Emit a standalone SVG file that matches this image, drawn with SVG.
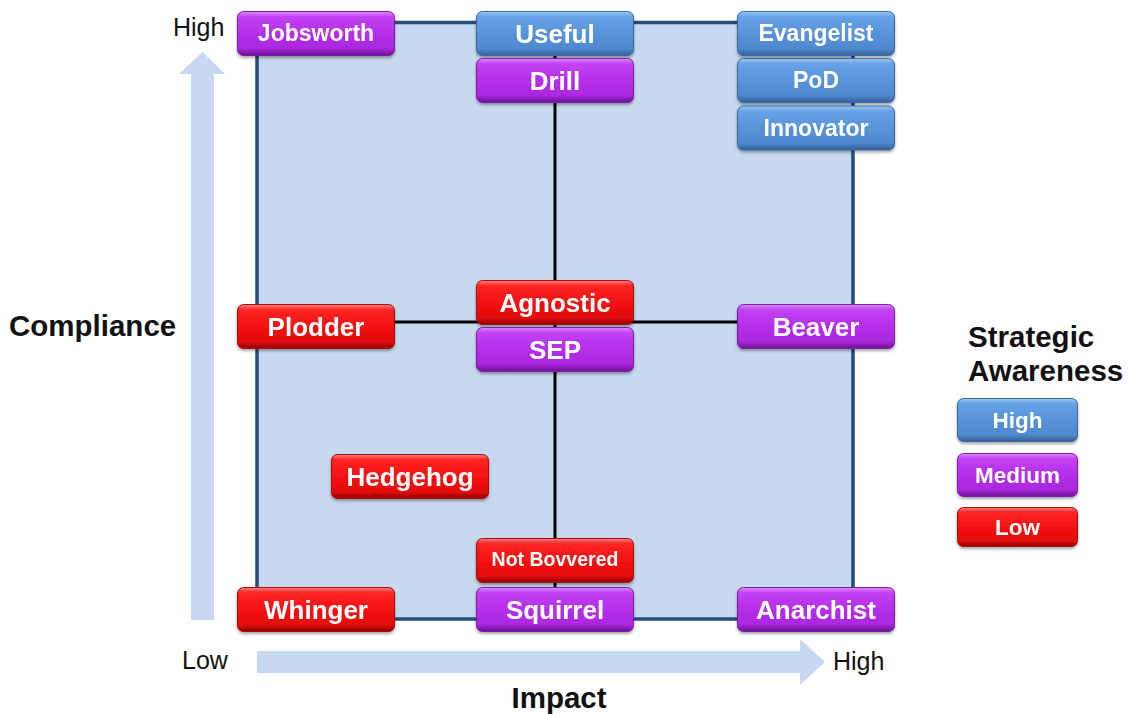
<svg xmlns="http://www.w3.org/2000/svg" width="1128" height="714" viewBox="0 0 1128 714">
  <style>
    .box rect { stroke-width: 1; }
    .blue rect { fill: url(#gBlue); stroke: #3a68a4; }
    .purple rect { fill: url(#gPurple); stroke: #7c1aa8; }
    .red rect { fill: url(#gRed); stroke: #a80808; }
    .box text { font-family: "Liberation Sans", Arial, sans-serif; font-weight: bold; fill: #ffffff; text-anchor: middle; }
    .axis { font-family: "Liberation Sans", Arial, sans-serif; font-size: 25px; fill: #111111; }
    .title { font-family: "Liberation Sans", Arial, sans-serif; font-size: 29.5px; font-weight: bold; fill: #111111; }
    .conn { stroke: #000000; stroke-width: 3; fill: none; }
  </style>
  <defs>
    <linearGradient id="gBlue" x1="0" y1="0" x2="0" y2="1">
      <stop offset="0" stop-color="#9ccaf4"/>
      <stop offset="0.12" stop-color="#66a2e6"/>
      <stop offset="0.5" stop-color="#5893da"/>
      <stop offset="0.84" stop-color="#4f88ce"/>
      <stop offset="1" stop-color="#33609c"/>
    </linearGradient>
    <linearGradient id="gPurple" x1="0" y1="0" x2="0" y2="1">
      <stop offset="0" stop-color="#de8cfa"/>
      <stop offset="0.12" stop-color="#c242f4"/>
      <stop offset="0.5" stop-color="#b52ee9"/>
      <stop offset="0.84" stop-color="#aa28de"/>
      <stop offset="1" stop-color="#6c1290"/>
    </linearGradient>
    <linearGradient id="gRed" x1="0" y1="0" x2="0" y2="1">
      <stop offset="0" stop-color="#ff8080"/>
      <stop offset="0.12" stop-color="#ff2424"/>
      <stop offset="0.5" stop-color="#f41212"/>
      <stop offset="0.84" stop-color="#e40c0c"/>
      <stop offset="1" stop-color="#940000"/>
    </linearGradient>
    <filter id="shadow" x="-10%" y="-20%" width="120%" height="150%">
      <feDropShadow dx="0" dy="2" stdDeviation="1.5" flood-color="#000000" flood-opacity="0.35"/>
    </filter>
  </defs>

  <rect width="1128" height="714" fill="#ffffff"/>

  <!-- axes arrows -->
  <polygon points="191,620 214,620 214,74 225,74 202.5,52 179,74 191,74" fill="#c6d9f0"/>
  <polygon points="257,651 800,651 800,639 825,662 800,685 800,673 257,673" fill="#c6d9f0"/>

  <!-- plot area -->
  <rect x="257" y="22.5" width="596" height="596.5" fill="#c6d9ef" stroke="#274c7c" stroke-width="3.5"/>

  <!-- axis labels -->
  <text class="axis" x="173" y="36">High</text>
  <text class="axis" x="182" y="669">Low</text>
  <text class="axis" x="833" y="670">High</text>
  <text class="title" x="9" y="336">Compliance</text>
  <text class="title" x="559" y="708" text-anchor="middle">Impact</text>
  <text class="title" x="968" y="347">Strategic</text>
  <text class="title" x="968" y="381">Awareness</text>

  <!-- connectors -->
  <g id="connectors">
    <line class="conn" x1="555" y1="56" x2="555" y2="588"/>
    <line class="conn" x1="395" y1="322" x2="737" y2="322"/>
  </g>

  <!-- nodes -->
  <g id="jobsworth" class="box purple" filter="url(#shadow)">
    <rect x="237.5" y="11.5" width="157" height="44" rx="6"/>
    <text x="316" y="41" font-size="23">Jobsworth</text>
  </g>
  <g id="useful" class="box blue" filter="url(#shadow)">
    <rect x="476.5" y="11.5" width="157" height="44" rx="6"/>
    <text x="555" y="43" font-size="26">Useful</text>
  </g>
  <g id="drill" class="box purple" filter="url(#shadow)">
    <rect x="476.5" y="58.5" width="157" height="44" rx="6"/>
    <text x="555" y="90" font-size="26">Drill</text>
  </g>
  <g id="evangelist" class="box blue" filter="url(#shadow)">
    <rect x="737.5" y="11.5" width="157" height="44" rx="6"/>
    <text x="816" y="41" font-size="23">Evangelist</text>
  </g>
  <g id="pod" class="box blue" filter="url(#shadow)">
    <rect x="737.5" y="58.5" width="157" height="44" rx="6"/>
    <text x="816" y="88" font-size="23">PoD</text>
  </g>
  <g id="innovator" class="box blue" filter="url(#shadow)">
    <rect x="737.5" y="106" width="157" height="44" rx="6"/>
    <text x="816" y="136" font-size="23">Innovator</text>
  </g>
  <g id="plodder" class="box red" filter="url(#shadow)">
    <rect x="237.5" y="304.5" width="157" height="44" rx="6"/>
    <text x="316" y="336" font-size="26">Plodder</text>
  </g>
  <g id="agnostic" class="box red" filter="url(#shadow)">
    <rect x="476.5" y="280.5" width="157" height="44" rx="6"/>
    <text x="555" y="312" font-size="26">Agnostic</text>
  </g>
  <g id="sep" class="box purple" filter="url(#shadow)">
    <rect x="476.5" y="327.5" width="157" height="44" rx="6"/>
    <text x="555" y="359" font-size="26">SEP</text>
  </g>
  <g id="beaver" class="box purple" filter="url(#shadow)">
    <rect x="737.5" y="304.5" width="157" height="44" rx="6"/>
    <text x="816" y="336" font-size="26">Beaver</text>
  </g>
  <g id="hedgehog" class="box red" filter="url(#shadow)">
    <rect x="331.5" y="454.5" width="157" height="44" rx="6"/>
    <text x="410" y="486" font-size="26">Hedgehog</text>
  </g>
  <g id="not-bovvered" class="box red" filter="url(#shadow)">
    <rect x="476.5" y="538.5" width="157" height="44" rx="6"/>
    <text x="555" y="566" font-size="19.5">Not Bovvered</text>
  </g>
  <g id="squirrel" class="box purple" filter="url(#shadow)">
    <rect x="476.5" y="587.5" width="157" height="44" rx="6"/>
    <text x="555" y="619" font-size="26">Squirrel</text>
  </g>
  <g id="whinger" class="box red" filter="url(#shadow)">
    <rect x="237.5" y="587.5" width="157" height="44" rx="6"/>
    <text x="316" y="619" font-size="26">Whinger</text>
  </g>
  <g id="anarchist" class="box purple" filter="url(#shadow)">
    <rect x="737.5" y="587.5" width="157" height="44" rx="6"/>
    <text x="816" y="619" font-size="26">Anarchist</text>
  </g>

  <!-- legend -->
  <g id="legend-high" class="box blue" filter="url(#shadow)">
    <rect x="957.5" y="398.5" width="120" height="43" rx="6"/>
    <text x="1017.5" y="428" font-size="22.5">High</text>
  </g>
  <g id="legend-medium" class="box purple" filter="url(#shadow)">
    <rect x="957.5" y="453.5" width="120" height="43" rx="6"/>
    <text x="1017.5" y="483" font-size="22.5">Medium</text>
  </g>
  <g id="legend-low" class="box red" filter="url(#shadow)">
    <rect x="957.5" y="507.5" width="120" height="39" rx="6"/>
    <text x="1017.5" y="535" font-size="22.5">Low</text>
  </g>
</svg>
